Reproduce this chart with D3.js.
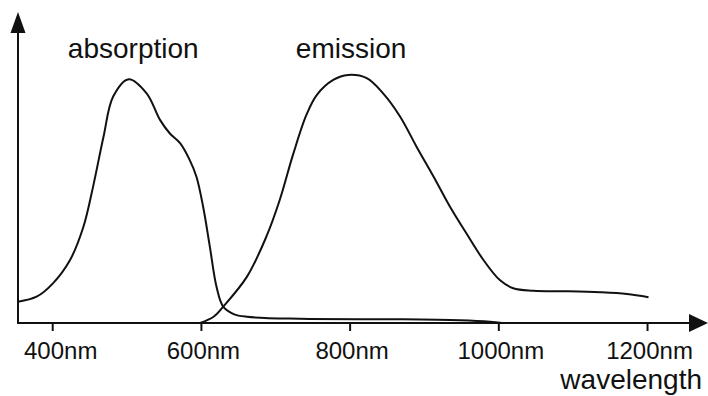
<!DOCTYPE html>
<html>
<head>
    <title>Absorption and emission spectra</title>
    <script src="https://d3js.org/d3.v7.min.js"></script>
    <style>
        body { margin: 0; background: #fff; }
        svg { display: block; font-family: "Liberation Sans", Arial, sans-serif; }
    </style>
</head>
<body>
    <div id="chart"></div>
    <script>
        // wavelength (nm) / relative intensity
        const absorptionX = [354, 379, 401, 424, 442, 455, 469, 482, 503, 527, 545, 558, 572, 585, 594, 603, 612, 621, 630, 644, 662, 733, 868, 948, 989, 1005];
        const absorptionY = [0.086, 0.106, 0.160, 0.254, 0.388, 0.550, 0.751, 0.913, 0.983, 0.926, 0.819, 0.765, 0.725, 0.657, 0.590, 0.469, 0.308, 0.146, 0.066, 0.036, 0.025, 0.017, 0.015, 0.011, 0.005, 0];

        const emissionX = [599, 617, 630, 662, 688, 706, 724, 742, 756, 778, 798, 823, 845, 868, 890, 913, 935, 957, 980, 1002, 1020, 1047, 1092, 1137, 1173, 1202];
        const emissionY = [0, 0.025, 0.066, 0.187, 0.348, 0.496, 0.680, 0.840, 0.920, 0.980, 1.0, 0.987, 0.926, 0.832, 0.711, 0.590, 0.469, 0.362, 0.254, 0.173, 0.140, 0.130, 0.128, 0.124, 0.117, 0.104];

        const tickValues = [400, 600, 800, 1000, 1200];
        const seriesLabels = ["absorption", "emission"];

        const width = 708, height = 396;
        const svg = d3.select("#chart").append("svg")
            .attr("width", width)
            .attr("height", height);

        const x = d3.scaleLinear().domain([354, 1282]).range([18, 708]);
        const y = d3.scaleLinear().domain([0, 1]).range([323, 75]);

        const ink = "#111";

        // x axis ticks + labels
        const xAxis = svg.append("g")
            .attr("transform", `translate(0,${y(0)})`)
            .call(d3.axisBottom(x).tickValues(tickValues).tickSize(8).tickPadding(11).tickFormat(d => d + "nm"));
        xAxis.select(".domain").remove();
        xAxis.selectAll(".tick line").attr("stroke", ink).attr("stroke-width", 2);
        xAxis.selectAll(".tick text")
            .attr("font-size", 24)
            .attr("fill", ink)
            .attr("font-family", "Liberation Sans, Arial, sans-serif")
            .attr("dx", (d, i) => i === 0 ? 8 : 2);

        // axis lines with arrow heads
        svg.append("line")
            .attr("x1", x.range()[0]).attr("y1", y(0))
            .attr("x2", 690).attr("y2", y(0))
            .attr("stroke", ink).attr("stroke-width", 2);
        svg.append("path")
            .attr("d", `M689,${y(0) - 9}L708,${y(0)}L689,${y(0) + 9}Z`)
            .attr("fill", ink);

        svg.append("line")
            .attr("x1", x.range()[0]).attr("y1", y(0) + 1)
            .attr("x2", x.range()[0]).attr("y2", 32)
            .attr("stroke", ink).attr("stroke-width", 2);
        svg.append("path")
            .attr("d", `M${x.range()[0] - 7.5},33L${x.range()[0]},12L${x.range()[0] + 7.5},33Z`)
            .attr("fill", ink);

        // curves
        const line = d3.line()
            .x(d => x(d[0]))
            .y(d => y(d[1]))
            .curve(d3.curveCatmullRom.alpha(0.5));

        const series = [
            d3.zip(absorptionX, absorptionY),
            d3.zip(emissionX, emissionY)
        ];

        svg.selectAll(".spectrum")
            .data(series)
            .enter().append("path")
            .attr("class", "spectrum")
            .attr("d", line)
            .attr("fill", "none")
            .attr("stroke", ink)
            .attr("stroke-width", 2);

        // labels over the peaks
        const labelX = [509, 802];
        svg.selectAll(".series-label")
            .data(seriesLabels)
            .enter().append("text")
            .attr("class", "series-label")
            .attr("x", (d, i) => x(labelX[i]))
            .attr("y", 58)
            .attr("text-anchor", "middle")
            .attr("font-size", 28)
            .attr("fill", ink)
            .text(d => d);

        svg.append("text")
            .attr("x", 702)
            .attr("y", 389)
            .attr("text-anchor", "end")
            .attr("font-size", 28)
            .attr("fill", ink)
            .text("wavelength");
    </script>
</body>
</html>
